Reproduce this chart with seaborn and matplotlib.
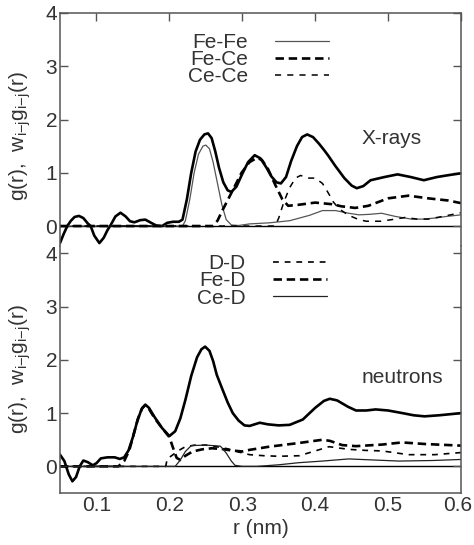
import numpy as np
import pandas as pd
import matplotlib
matplotlib.use("Agg")
import matplotlib.pyplot as plt
import matplotlib.transforms as mtransforms
import seaborn as sns

# ---------------- data ----------------
# X-rays, total g(r)
xr_total_r = [0.05, 0.055, 0.06, 0.065, 0.07, 0.076, 0.082, 0.088, 0.092, 0.097, 0.104, 0.11, 0.115,
              0.12, 0.126, 0.133, 0.14, 0.146, 0.152, 0.16, 0.167, 0.175, 0.182, 0.19, 0.197, 0.205,
              0.213, 0.218, 0.224, 0.23, 0.236, 0.242, 0.248, 0.253, 0.258, 0.263, 0.268, 0.274, 0.28,
              0.285, 0.292, 0.3, 0.308, 0.317, 0.325, 0.333, 0.34, 0.347, 0.353, 0.36, 0.367, 0.375,
              0.382, 0.389, 0.397, 0.405, 0.412, 0.418, 0.427, 0.44, 0.45, 0.457, 0.466, 0.476, 0.495,
              0.513, 0.531, 0.549, 0.567, 0.585, 0.6]
xr_total_g = [-0.32, -0.15, 0.0, 0.1, 0.17, 0.19, 0.15, 0.05, 0.0, -0.18, -0.32, -0.22, -0.08,
              0.03, 0.18, 0.25, 0.18, 0.09, 0.07, 0.11, 0.12, 0.06, 0.01, 0.0, 0.06, 0.08,
              0.08, 0.12, 0.5, 1.0, 1.4, 1.62, 1.72, 1.74, 1.65, 1.4, 1.1, 0.82, 0.67,
              0.64, 0.74, 0.98, 1.2, 1.33, 1.27, 1.1, 0.93, 0.82, 0.8, 0.92, 1.22, 1.5,
              1.67, 1.72, 1.67, 1.55, 1.43, 1.32, 1.14, 0.9, 0.76, 0.71, 0.75, 0.86, 0.92,
              0.97, 0.92, 0.86, 0.92, 0.96, 0.99]
# X-rays partials
fefe_r = [0.05, 0.218, 0.222, 0.228, 0.234, 0.24, 0.246, 0.25, 0.255, 0.26, 0.266, 0.272, 0.278,
          0.285, 0.295, 0.31, 0.337, 0.365, 0.392, 0.41, 0.428, 0.446, 0.46, 0.475, 0.491, 0.51,
          0.532, 0.548, 0.564, 0.58, 0.6]
fefe_g = [0.0, 0.0, 0.1, 0.5, 1.0, 1.35, 1.5, 1.52, 1.45, 1.2, 0.8, 0.4, 0.12,
          0.02, 0.01, 0.04, 0.06, 0.1, 0.2, 0.29, 0.29, 0.24, 0.21, 0.22, 0.24, 0.18,
          0.13, 0.13, 0.15, 0.18, 0.21]
fece_r = [0.05, 0.26, 0.266, 0.273, 0.285, 0.299, 0.31, 0.32, 0.327, 0.335, 0.345, 0.355, 0.363,
          0.378, 0.4, 0.423, 0.436, 0.455, 0.473, 0.5, 0.528, 0.555, 0.582, 0.6]
fece_g = [0.0, 0.0, 0.1, 0.3, 0.62, 1.0, 1.2, 1.28, 1.24, 1.08, 0.78, 0.5, 0.38,
          0.4, 0.44, 0.41, 0.37, 0.34, 0.38, 0.52, 0.57, 0.52, 0.48, 0.43]
cece_r = [0.05, 0.345, 0.35, 0.357, 0.365, 0.373, 0.38, 0.39, 0.4, 0.41, 0.418, 0.425, 0.433,
          0.446, 0.46, 0.47, 0.49, 0.505, 0.523, 0.54, 0.555, 0.575, 0.6]
cece_g = [0.0, 0.0, 0.15, 0.45, 0.72, 0.9, 0.95, 0.9, 0.9, 0.8, 0.62, 0.45, 0.32,
          0.2, 0.12, 0.09, 0.09, 0.12, 0.16, 0.13, 0.13, 0.18, 0.25]

# neutrons, total g(r)
nt_total_r = [0.05, 0.056, 0.062, 0.067, 0.072, 0.077, 0.082, 0.088, 0.095, 0.1, 0.106, 0.115,
              0.125, 0.132, 0.138, 0.144, 0.15, 0.156, 0.162, 0.167, 0.172, 0.18, 0.19, 0.2,
              0.208, 0.215, 0.222, 0.23, 0.238, 0.244, 0.249, 0.255, 0.26, 0.265, 0.273, 0.28,
              0.287, 0.295, 0.303, 0.31, 0.317, 0.324, 0.335, 0.35, 0.365, 0.383, 0.4, 0.412,
              0.42, 0.43, 0.445, 0.456, 0.47, 0.483, 0.5, 0.52, 0.535, 0.55, 0.57, 0.6]
nt_total_g = [0.22, 0.1, -0.15, -0.28, -0.2, 0.0, 0.11, 0.08, 0.02, 0.06, 0.15, 0.17,
              0.17, 0.14, 0.17, 0.3, 0.55, 0.85, 1.08, 1.16, 1.1, 0.92, 0.72, 0.57,
              0.66, 0.9, 1.25, 1.7, 2.05, 2.2, 2.25, 2.17, 1.98, 1.72, 1.44, 1.2,
              1.0, 0.86, 0.77, 0.76, 0.79, 0.82, 0.79, 0.77, 0.78, 0.88, 1.1, 1.23,
              1.27, 1.24, 1.12, 1.05, 1.05, 1.07, 1.05, 1.0, 0.96, 0.94, 0.96, 1.0]
# neutron partials
dd_r = [0.05, 0.195, 0.197, 0.205, 0.213, 0.222, 0.235, 0.25, 0.265, 0.28, 0.295, 0.31, 0.33,
        0.35, 0.378, 0.4, 0.419, 0.446, 0.47, 0.492, 0.528, 0.564, 0.6]
dd_g = [0.0, 0.0, 0.14, 0.22, 0.3, 0.37, 0.4, 0.4, 0.37, 0.33, 0.27, 0.22, 0.2,
        0.19, 0.2, 0.29, 0.37, 0.32, 0.3, 0.29, 0.22, 0.22, 0.26]
fed_r = [0.05, 0.13, 0.138, 0.145, 0.151, 0.157, 0.163, 0.167, 0.172, 0.18, 0.19, 0.2, 0.205,
         0.21, 0.215, 0.222, 0.232, 0.245, 0.258, 0.27, 0.285, 0.3, 0.31, 0.337, 0.378, 0.41,
         0.42, 0.437, 0.456, 0.492, 0.519, 0.551, 0.6]
fed_g = [0.0, 0.0, 0.1, 0.3, 0.6, 0.9, 1.1, 1.15, 1.08, 0.9, 0.72, 0.55, 0.35,
         0.16, 0.12, 0.2, 0.28, 0.32, 0.34, 0.33, 0.3, 0.28, 0.31, 0.37, 0.44, 0.5,
         0.48, 0.4, 0.38, 0.41, 0.45, 0.42, 0.39]
ced_r = [0.05, 0.208, 0.215, 0.222, 0.23, 0.25, 0.27, 0.278, 0.285, 0.29, 0.3, 0.32, 0.35,
         0.378, 0.41, 0.446, 0.48, 0.515, 0.56, 0.6]
ced_g = [0.0, 0.0, 0.12, 0.28, 0.39, 0.4, 0.38, 0.25, 0.1, 0.02, 0.0, 0.0, 0.03,
         0.07, 0.1, 0.14, 0.12, 0.1, 0.11, 0.13]

xr_labels = ["Fe-Fe", "Fe-Ce", "Ce-Ce"]
nt_labels = ["D-D", "Fe-D", "Ce-D"]
x_ticks = [0.1, 0.2, 0.3, 0.4, 0.5, 0.6]
y_ticks = [0, 1, 2, 3, 4]
y_label = "g(r),  w$_{\\mathregular{i{-}j}}$g$_{\\mathregular{i{-}j}}$(r)"

# ---------------- style ----------------
sns.set_style("white")
plt.rcParams["font.family"] = ["Liberation Sans", "DejaVu Sans"]
TXT = "#333333"
plt.rcParams["text.color"] = TXT
plt.rcParams["axes.labelcolor"] = TXT

FS = 15
THICK = 1.9
THIN = 0.9

fig = plt.figure(figsize=(4.74, 5.45), dpi=100)
L, R = 60 / 474, 461 / 474
top_t, mid, bot_b = 1 - 13 / 545, 1 - 246 / 545, 1 - 493 / 545
ax1 = fig.add_axes([L, mid, R - L, top_t - mid])
ax2 = fig.add_axes([L, bot_b, R - L, mid - bot_b], sharex=ax1)

def line(ax, r, g, **kw):
    df = pd.DataFrame({"r": r, "g": g})
    sns.lineplot(data=df, x="r", y="g", ax=ax, estimator=None, sort=False, **kw)

# top panel
line(ax1, xr_total_r, xr_total_g, color="black", lw=THICK)
line(ax1, fefe_r, fefe_g, color="#555555", lw=THIN, label=xr_labels[0])
line(ax1, fece_r, fece_g, color="black", lw=THICK, ls=(0, (3.2, 1.8)), label=xr_labels[1])
line(ax1, cece_r, cece_g, color="black", lw=THIN + 0.2, ls=(0, (4, 4)), label=xr_labels[2])

# bottom panel
line(ax2, nt_total_r, nt_total_g, color="black", lw=THICK)
line(ax2, dd_r, dd_g, color="black", lw=THIN + 0.3, ls=(0, (3.5, 3.5)), label=nt_labels[0])
line(ax2, fed_r, fed_g, color="black", lw=THICK, ls=(0, (3.2, 1.8)), label=nt_labels[1])
line(ax2, ced_r, ced_g, color="#222222", lw=THIN, label=nt_labels[2])

for ax in (ax1, ax2):
    ax.axhline(0, color="black", lw=1.0, zorder=0.5)
    ax.set_xlim(0.05, 0.6)
    ax.set_yticks(y_ticks)
    ax.set_ylabel(y_label, fontsize=FS)
    for s in ax.spines.values():
        s.set_color("#555555")
        s.set_linewidth(1.1)
    ax.tick_params(axis="both", direction="in", length=6, width=1.0, color="#555555",
                   labelsize=FS, labelcolor=TXT, pad=2)
    ax.tick_params(axis="y", right=True, left=True)
    ax.set_xlabel("")

ax1.set_ylim(-0.375, 4)
ax2.set_ylim(-0.5, 4.14)

ax1.spines["bottom"].set_visible(False)
ax2.spines["top"].set_visible(False)

# top panel: ticks only on its top edge
ax1.tick_params(axis="x", bottom=False, labelbottom=False, top=True, labeltop=False)
ax1.set_xticks([0.05 + k * 0.55 / 6 for k in range(1, 6)])
ax2.tick_params(axis="x", top=False)
ax2.set_xticks(x_ticks)
ax2.set_xticklabels([f"{t:.1f}" for t in x_ticks])
ax2.set_xlabel("r (nm)", fontsize=FS, labelpad=3)

# keep the last tick label just inside the figure edge
last = ax2.get_xticklabels()[-1]
last.set_transform(last.get_transform() + mtransforms.ScaledTranslation(-3 / 100, 0, fig.dpi_scale_trans))

ax1.yaxis.set_label_coords(-0.067, 0.47)
ax2.yaxis.set_label_coords(-0.067, 0.5)

ax1.text(0.463, 1.65, "X-rays", fontsize=FS, va="center", ha="left", color=TXT)
ax2.text(0.463, 1.67, "neutrons", fontsize=FS, va="center", ha="left", color=TXT)

def legend(ax, labels, anchor):
    h, l = ax.get_legend_handles_labels()
    hl = dict(zip(l, h))
    leg = ax.legend([hl[k] for k in labels], labels, loc="upper left", bbox_to_anchor=anchor,
                    frameon=False, fontsize=FS, markerfirst=False, handlelength=2.6,
                    handletextpad=1.3, labelspacing=-0.08, borderpad=0, borderaxespad=0)
    for t in leg.get_texts():
        t.set_color(TXT)
    return leg

legend(ax1, xr_labels, (0.319, 0.915))
legend(ax2, nt_labels, (0.342, 0.968))

fig.savefig("out.png", dpi=100)
